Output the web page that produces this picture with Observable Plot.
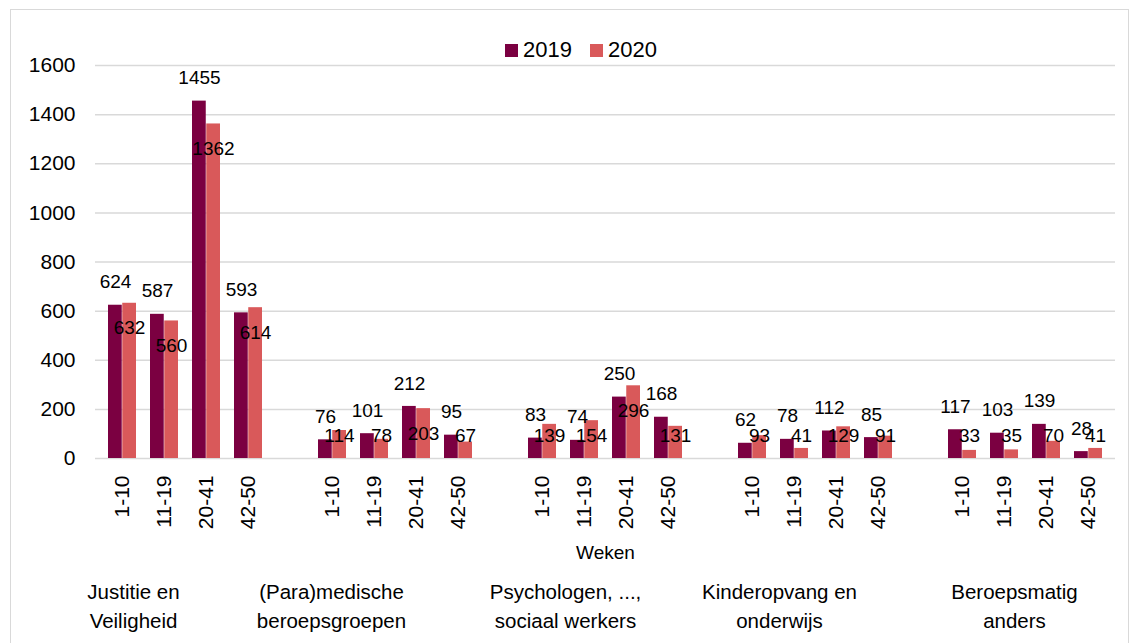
<!DOCTYPE html>
<html>
<head>
<meta charset="utf-8">
<script src="https://cdn.jsdelivr.net/npm/d3@7"></script>
<script src="https://cdn.jsdelivr.net/npm/@observablehq/plot@0.6"></script>
<style>
  html, body { margin: 0; padding: 0; background: #fff; }
  body { width: 1133px; height: 643px; overflow: hidden; position: relative; font-family: "Liberation Sans", Arial, sans-serif; }
  #frame { position: absolute; left: 10px; top: 9px; width: 1117px; height: 700px; border: 1px solid #d9d9d9; }
  #legend { position: absolute; left: 494px; top: 27px; display: flex; align-items: center; font-size: 22px; color: #000; z-index: 2; }
  #legend .item { display: flex; align-items: center; margin-right: 18px; }
  #legend .sw { width: 13px; height: 13px; margin-right: 5px; display: inline-block; }
</style>
</head>
<body>
<div id="frame">
  <div id="chart"></div>
  <div id="legend"></div>
</div>
<script>
// ---- data ----
const categories = ["Justitie en\nVeiligheid", "(Para)medische\nberoepsgroepen", "Psychologen, ...,\nsociaal werkers", "Kinderopvang en\nonderwijs", "Beroepsmatig\nanders"];
const weeks = ["1-10", "11-19", "20-41", "42-50"];
const years = ["2019", "2020"];
const values2019 = [624, 587, 1455, 593, 76, 101, 212, 95, 83, 74, 250, 168, 62, 78, 112, 85, 117, 103, 139, 28];
const values2020 = [632, 560, 1362, 614, 114, 78, 203, 67, 139, 154, 296, 131, 93, 41, 129, 91, 33, 35, 70, 41];
const yTicks = [0, 200, 400, 600, 800, 1000, 1200, 1400, 1600];
const xTitle = "Weken";

const colors = ["#7b0041", "#d9595a"];

// ---- build table ----
const keyOf = (ci, wi) => `${ci}|${weeks[wi]}`;
const domain = [];
categories.forEach((c, ci) => {
  if (ci > 0) domain.push(`gap${ci}`);
  weeks.forEach((w, wi) => domain.push(keyOf(ci, wi)));
});
const rows = [];
categories.forEach((c, ci) => weeks.forEach((w, wi) => {
  const i = ci * weeks.length + wi;
  rows.push({key: keyOf(ci, wi), year: "2019", value: values2019[i]});
  rows.push({key: keyOf(ci, wi), year: "2020", value: values2020[i]});
}));
const r19 = rows.filter(d => d.year === "2019");
const r20 = rows.filter(d => d.year === "2020");

const half = 14.25;
const labelShift = [11, -1, 23, 27, 52];

const chart = Plot.plot({
  width: 1117,
  height: 633,
  marginLeft: 84,
  marginRight: 13,
  marginTop: 55,
  marginBottom: 185,
  style: {fontFamily: "'Liberation Sans', Arial, sans-serif", fontSize: "21px", color: "#000", background: "#fff", overflow: "visible"},
  x: {type: "band", domain, paddingInner: 0.33, paddingOuter: 0.165, label: null,
      tickRotate: -90, tickSize: 0, tickPadding: 17,
      tickFormat: k => k.startsWith("gap") ? "" : k.split("|")[1]},
  y: {domain: [0, 1600], ticks: yTicks, tickSize: 0, tickPadding: 20, label: null, tickFormat: d => String(d)},
  marks: [
    Plot.ruleY(yTicks, {stroke: "#d9d9d9", strokeWidth: 1.5}),
    Plot.barY(r19, {x: "key", y: "value", fill: colors[0], insetRight: half}),
    Plot.barY(r20, {x: "key", y: "value", fill: colors[1], insetLeft: half}),
    Plot.text(r19, {x: "key", y: "value", text: d => String(d.value), dx: -7, dy: -23, fontSize: 19, fill: "#000"}),
    Plot.text(r20, {x: "key", y: d => Math.max(d.value - 102, 94), text: d => String(d.value), dx: 7, fontSize: 19, fill: "#000"}),
    Plot.text([xTitle], {frameAnchor: "bottom", text: d => d, dy: 100, fontSize: 19, fill: "#000"}),
    ...categories.map((c, ci) => Plot.text([c], {x: () => keyOf(ci, 0), frameAnchor: "bottom", text: d => d, dx: labelShift[ci], dy: 169, fontSize: 20.5, lineHeight: 1.37, fill: "#000"}))
  ]
});
document.getElementById("chart").appendChild(chart);

const leg = document.getElementById("legend");
years.forEach((y, i) => {
  const item = document.createElement("span");
  item.className = "item";
  const sw = document.createElement("span");
  sw.className = "sw";
  sw.style.background = colors[i];
  item.appendChild(sw);
  item.appendChild(document.createTextNode(y));
  leg.appendChild(item);
});
</script>
</body>
</html>
